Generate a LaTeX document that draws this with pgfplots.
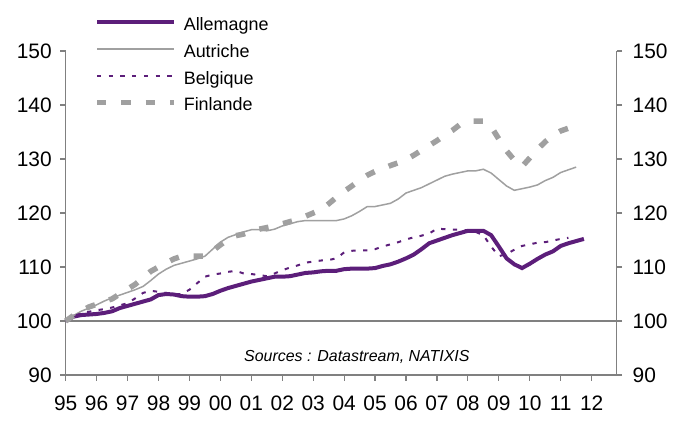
\documentclass[border=0pt]{standalone}
\usepackage{fontspec}
\setmainfont{Liberation Sans}
\usepackage{pgfplots}
\usepackage{pgfplotstable}
\pgfplotsset{compat=1.18}
\definecolor{natpurple}{RGB}{92,30,122}
\definecolor{lgray}{RGB}{160,160,160}
\definecolor{agray}{RGB}{128,128,128}

\pgfplotstableread{
x v
1995.00 100
1995.25 100.8
1995.50 101.1
1995.75 101.2
1996.00 101.3
1996.25 101.5
1996.50 101.8
1996.75 102.4
1997.00 102.8
1997.25 103.2
1997.50 103.6
1997.75 104.0
1998.00 104.8
1998.25 105.0
1998.50 104.9
1998.75 104.6
1999.00 104.5
1999.25 104.5
1999.50 104.6
1999.75 105.0
2000.00 105.6
2000.25 106.1
2000.50 106.5
2000.75 106.9
2001.00 107.3
2001.25 107.6
2001.50 107.9
2001.75 108.2
2002.00 108.2
2002.25 108.3
2002.50 108.6
2002.75 108.9
2003.00 109.0
2003.25 109.2
2003.50 109.3
2003.75 109.3
2004.00 109.6
2004.25 109.7
2004.50 109.7
2004.75 109.7
2005.00 109.8
2005.25 110.2
2005.50 110.5
2005.75 111.0
2006.00 111.6
2006.25 112.3
2006.50 113.3
2006.75 114.4
2007.00 114.9
2007.25 115.4
2007.50 115.9
2007.75 116.3
2008.00 116.7
2008.25 116.7
2008.50 116.7
2008.75 115.9
2009.00 113.8
2009.25 111.6
2009.50 110.5
2009.75 109.8
2010.00 110.6
2010.25 111.5
2010.50 112.3
2010.75 112.9
2011.00 113.9
2011.25 114.4
2011.50 114.8
2011.75 115.2
}\allemagne

\pgfplotstableread{
x v
1995.00 100
1995.25 101.0
1995.50 101.8
1995.75 102.4
1996.00 103.0
1996.25 103.7
1996.50 104.3
1996.75 104.8
1997.00 105.3
1997.25 105.8
1997.50 106.4
1997.75 107.5
1998.00 108.7
1998.25 109.6
1998.50 110.3
1998.75 110.7
1999.00 111.1
1999.25 111.5
1999.50 112.0
1999.75 113.3
2000.00 114.6
2000.25 115.5
2000.50 116.0
2000.75 116.5
2001.00 116.9
2001.25 116.9
2001.50 116.7
2001.75 117.0
2002.00 117.6
2002.25 118.0
2002.50 118.4
2002.75 118.6
2003.00 118.6
2003.25 118.6
2003.50 118.6
2003.75 118.6
2004.00 118.9
2004.25 119.5
2004.50 120.3
2004.75 121.2
2005.00 121.2
2005.25 121.5
2005.50 121.8
2005.75 122.6
2006.00 123.7
2006.25 124.2
2006.50 124.7
2006.75 125.4
2007.00 126.1
2007.25 126.8
2007.50 127.2
2007.75 127.5
2008.00 127.8
2008.25 127.8
2008.50 128.1
2008.75 127.4
2009.00 126.2
2009.25 125.0
2009.50 124.2
2009.75 124.5
2010.00 124.8
2010.25 125.2
2010.50 126.0
2010.75 126.6
2011.00 127.5
2011.25 128.0
2011.50 128.5
}\autriche

\pgfplotstableread{
x v
1995.00 100
1995.25 100.9
1995.50 101.4
1995.75 101.7
1996.00 102.0
1996.25 102.2
1996.50 102.5
1996.75 102.9
1997.00 103.3
1997.25 104.2
1997.50 105.2
1997.75 105.6
1998.00 105.4
1998.25 105.2
1998.50 105.0
1998.75 105.0
1999.00 105.8
1999.25 107.0
1999.50 108.2
1999.75 108.6
2000.00 108.8
2000.25 109.1
2000.50 109.3
2000.75 108.8
2001.00 108.7
2001.25 108.5
2001.50 108.3
2001.75 108.8
2002.00 109.4
2002.25 109.9
2002.50 110.3
2002.75 110.8
2003.00 111.0
2003.25 111.2
2003.50 111.3
2003.75 111.6
2004.00 112.7
2004.25 113.0
2004.50 113.1
2004.75 113.1
2005.00 113.3
2005.25 113.8
2005.50 114.2
2005.75 114.6
2006.00 115.1
2006.25 115.5
2006.50 115.8
2006.75 116.2
2007.00 117.1
2007.25 117.0
2007.50 116.9
2007.75 116.9
2008.00 116.8
2008.25 116.5
2008.50 115.9
2008.75 113.8
2009.00 112.0
2009.25 112.4
2009.50 113.2
2009.75 113.9
2010.00 114.2
2010.25 114.5
2010.50 114.6
2010.75 114.9
2011.00 115.2
2011.25 115.4
}\belgique

\pgfplotstableread{
x v
1995.00 100
1995.25 101.0
1995.50 101.8
1995.75 102.6
1996.00 103.1
1996.25 103.6
1996.50 104.1
1996.75 105.0
1997.00 105.9
1997.25 106.8
1997.50 108.0
1997.75 109.2
1998.00 110.0
1998.25 110.8
1998.50 111.5
1998.75 112.0
1999.00 112.0
1999.25 112.0
1999.50 112.0
1999.75 113.0
2000.00 114.1
2000.25 115.1
2000.50 115.8
2000.75 116.1
2001.00 116.6
2001.25 117.0
2001.50 117.3
2001.75 117.6
2002.00 118.0
2002.25 118.4
2002.50 118.8
2002.75 119.4
2003.00 120.0
2003.25 120.6
2003.50 121.7
2003.75 122.9
2004.00 124.0
2004.25 125.0
2004.50 126.1
2004.75 127.0
2005.00 127.7
2005.25 128.2
2005.50 128.8
2005.75 129.3
2006.00 129.9
2006.25 130.7
2006.50 131.6
2006.75 132.5
2007.00 133.4
2007.25 134.4
2007.50 135.3
2007.75 136.4
2008.00 137.0
2008.25 137.0
2008.50 137.0
2008.75 136.0
2009.00 133.7
2009.25 131.5
2009.50 129.8
2009.75 128.6
2010.00 130.2
2010.25 131.8
2010.50 133.2
2010.75 134.4
2011.00 135.2
2011.25 135.7
2011.50 136.0
}\finlande

\begin{document}
\begin{tikzpicture}
\pgfplotsset{
  common/.style={
    width=551bp, height=324bp, scale only axis,
    xmin=1995, xmax=2012.81, ymin=90, ymax=150,
    ytick={90,100,...,150},
    tick align=outside,
    major tick length=5.5bp,
    axis line style={agray, line width=1.2bp},
    tick style={agray, line width=1.2bp},
    /pgf/number format/assume math mode=true,
    ticklabel style={font=\fontsize{21}{23}\selectfont, text=black},
  }
}
\begin{axis}[common,
  axis x line*=bottom, axis y line*=left,
  xtick={1995,1996,...,2012},
  xticklabels={95,96,97,98,99,00,01,02,03,04,05,06,07,08,09,10,11,12},
  xticklabel style={yshift=-12bp},
  yticklabel style={xshift=-5bp},
  clip=false,
  legend style={draw=none, fill=none, inner sep=0pt, outer sep=0pt,
    at={(rel axis cs:0.0519,1.1028)}, anchor=north west,
    font=\fontsize{18}{20}\selectfont,
    nodes={inner sep=0pt, text height=13bp, text depth=4bp},
    row sep=9.7bp, column sep=7bp},
  legend cell align=left,
  legend image code/.code={\draw[#1] (0bp,4bp) -- (77bp,4bp);},
]
\addplot[agray, line width=1.2bp, forget plot] coordinates {(1995,100) (2012.81,100)};
\addplot[natpurple, line width=4bp] table[x=x,y=v] {\allemagne};
\addlegendentry{Allemagne}
\addplot[lgray, line width=1.5bp] table[x=x,y=v] {\autriche};
\addlegendentry{Autriche}
\addplot[natpurple, line width=2bp, dash pattern=on 4.3bp off 7.4bp] table[x=x,y=v] {\belgique};
\addlegendentry{Belgique}
\addplot[lgray, line width=5.5bp, dash pattern=on 9.3bp off 15bp] table[x=x,y=v] {\finlande};
\addlegendentry{Finlande}
\node[font=\fontsize{16}{18}\selectfont\itshape] at (axis cs:2004.41,93.4) {Sources : Datastream, NATIXIS};
\end{axis}
\begin{axis}[common,
  axis x line=none, axis y line*=right,
  yticklabel style={xshift=7bp},
]
\end{axis}
\pgfresetboundingbox
\path[use as bounding box] (current axis.south west) ++(-65.7bp,-46bp) rectangle ++(683bp,421bp);
\end{tikzpicture}
\end{document}
